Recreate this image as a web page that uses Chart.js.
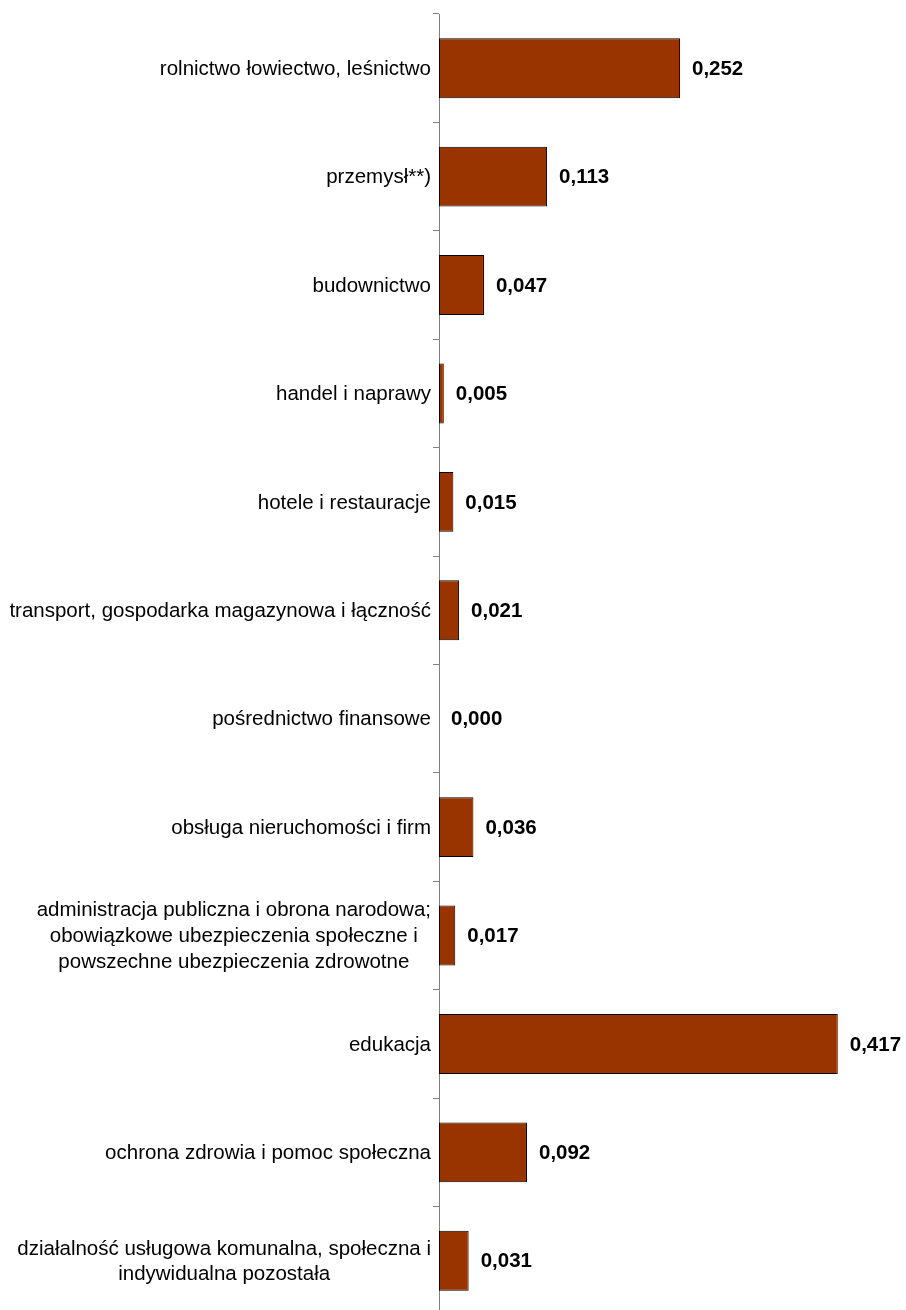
<!DOCTYPE html>
<html>
<head>
<meta charset="utf-8">
<script src="https://cdn.jsdelivr.net/npm/chart.js@4.4.1/dist/chart.umd.min.js"></script>
<style>
    html, body { margin: 0; padding: 0; background: #fff; overflow: hidden; }
    #wrap { position: relative; width: 906px; height: 1320px; }
</style>
</head>
<body>
<div id="wrap"><canvas id="chart"></canvas></div>
<script>
const categories = [
    ['rolnictwo łowiectwo, leśnictwo'],
    ['przemysł**)'],
    ['budownictwo'],
    ['handel i naprawy'],
    ['hotele i restauracje'],
    ['transport, gospodarka magazynowa i łączność'],
    ['pośrednictwo finansowe'],
    ['obsługa nieruchomości i firm'],
    ['administracja publiczna i obrona narodowa;', 'obowiązkowe ubezpieczenia społeczne i', 'powszechne ubezpieczenia zdrowotne'],
    ['edukacja'],
    ['ochrona zdrowia i pomoc społeczna'],
    ['działalność usługowa komunalna, społeczna i', 'indywidualna pozostała']
];
const values = [0.252, 0.113, 0.047, 0.005, 0.015, 0.021, 0.000, 0.036, 0.017, 0.417, 0.092, 0.031];

const FONT = '"Liberation Sans", Arial, sans-serif';
const AXIS_X = 439;

const fmt = v => v.toFixed(3).replace('.', ',');

// category names drawn by hand so multi-line blocks stay centred on themselves
const categoryLabels = {
    id: 'categoryLabels',
    afterDraw(chart) {
        const ctx = chart.ctx;
        const y = chart.scales.y;
        ctx.save();
        ctx.font = '20.5px ' + FONT;
        ctx.fillStyle = '#000';
        ctx.textAlign = 'center';
        ctx.textBaseline = 'middle';
        const lh = 25.7;
        categories.forEach((lines, i) => {
            const cy = y.getPixelForValue(i) + 1;
            const w = Math.max(...lines.map(l => ctx.measureText(l).width));
            const cx = AXIS_X - 8 - w / 2;
            lines.forEach((l, k) => {
                ctx.fillText(l, cx, cy + (k - (lines.length - 1) / 2) * lh);
            });
        });
        ctx.restore();
    }
};

const valueLabels = {
    id: 'valueLabels',
    afterDatasetsDraw(chart) {
        const ctx = chart.ctx;
        const meta = chart.getDatasetMeta(0);
        ctx.save();
        ctx.font = 'bold 20.5px ' + FONT;
        ctx.fillStyle = '#000';
        ctx.textAlign = 'left';
        ctx.textBaseline = 'middle';
        meta.data.forEach((bar, i) => {
            ctx.fillText(fmt(values[i]), bar.x + 12, bar.y + 1);
        });
        ctx.restore();
    }
};

new Chart(document.getElementById('chart'), {
    type: 'bar',
    data: {
        labels: categories,
        datasets: [{
            data: values,
            backgroundColor: '#993300',
            borderColor: '#000',
            borderWidth: 1,
            borderSkipped: false,
            barPercentage: 0.553,
            categoryPercentage: 1
        }]
    },
    options: {
        indexAxis: 'y',
        responsive: true,
        maintainAspectRatio: false,
        animation: false,
        layout: { padding: { top: 14, right: 8, bottom: 5, left: 0 } },
        scales: {
            x: {
                display: false,
                min: 0,
                max: 0.48
            },
            y: {
                afterFit: s => { s.width = AXIS_X; },
                ticks: { display: false },
                grid: {
                    offset: true,
                    drawOnChartArea: false,
                    tickLength: 6,
                    color: '#808080'
                },
                border: { display: true, color: '#808080', width: 1 }
            }
        },
        plugins: {
            legend: { display: false },
            tooltip: { enabled: false }
        }
    },
    plugins: [categoryLabels, valueLabels]
});
</script>
</body>
</html>
